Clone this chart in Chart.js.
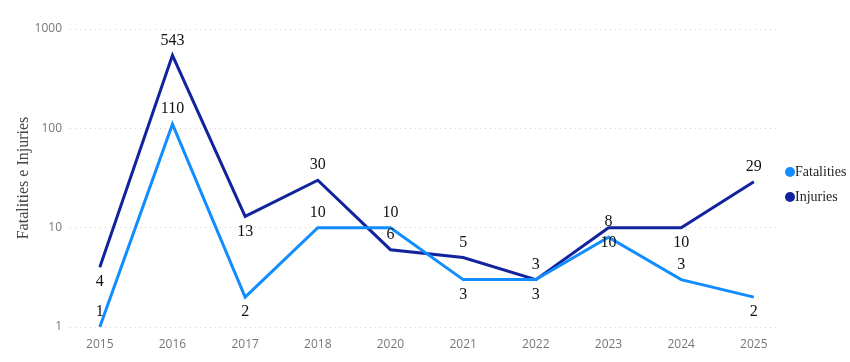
<!DOCTYPE html>
<html>
<head>
<meta charset="utf-8">
<script src="https://cdn.jsdelivr.net/npm/chart.js@4.4.1/dist/chart.umd.min.js"></script>
<style>
  html, body { margin: 0; padding: 0; background: #fff; }
  #wrap { width: 850px; height: 362px; position: relative; }
</style>
</head>
<body>
<div id="wrap"><canvas id="grafico"></canvas></div>
<script>
// anos (2019 nao aparece no original)
const anos = ["2015", "2016", "2017", "2018", "2020", "2021", "2022", "2023", "2024", "2025"];
const fatalities = [1, 110, 2, 10, 10, 3, 3, 8, 3, 2];
const injuries = [4, 543, 13, 30, 6, 5, 3, 10, 10, 29];
const ticksY = [1, 10, 100, 1000];

// onde fica cada rotulo: acima (-1) ou abaixo (1) do ponto
const posFatalities = [-1, -1, 1, -1, -1, 1, 1, -1, -1, 1];
const posInjuries = [1, -1, 1, -1, -1, -1, -1, 1, 1, -1];

const corFatalities = "#118DFF";
const corInjuries = "#12239E";

function pontos(valores) {
    return valores.map((v, i) => ({ x: i, y: v }));
}

// rotulos de dados
const rotulos = {
    id: "rotulos",
    afterDatasetsDraw(chart) {
        const ctx = chart.ctx;
        const posicoes = [posFatalities, posInjuries];
        ctx.save();
        ctx.font = "16px 'Liberation Serif'";
        ctx.fillStyle = "#111";
        ctx.textAlign = "center";
        ctx.textBaseline = "middle";
        chart.data.datasets.forEach((ds, d) => {
            const meta = chart.getDatasetMeta(d);
            meta.data.forEach((p, i) => {
                ctx.fillText(String(ds.data[i].y), p.x, p.y + posicoes[d][i] * 15);
            });
        });
        ctx.restore();
    }
};

// legenda a direita
const legenda = {
    id: "legenda",
    afterDraw(chart) {
        const ctx = chart.ctx;
        ctx.save();
        ctx.font = "14px 'Liberation Serif'";
        ctx.textBaseline = "middle";
        chart.data.datasets.forEach((ds, d) => {
            const y = 172 + d * 25;
            ctx.fillStyle = ds.borderColor;
            ctx.beginPath();
            ctx.arc(790, y, 5, 0, Math.PI * 2);
            ctx.fill();
            ctx.fillStyle = "#252423";
            ctx.fillText(ds.label, 795, y);
        });
        ctx.restore();
    }
};

new Chart(document.getElementById("grafico"), {
    type: "line",
    data: {
        datasets: [
            {
                label: "Fatalities",
                data: pontos(fatalities),
                borderColor: corFatalities,
                backgroundColor: corFatalities,
                borderWidth: 3,
                pointRadius: 0,
                tension: 0
            },
            {
                label: "Injuries",
                data: pontos(injuries),
                borderColor: corInjuries,
                backgroundColor: corInjuries,
                borderWidth: 3,
                pointRadius: 0,
                tension: 0
            }
        ]
    },
    options: {
        responsive: true,
        maintainAspectRatio: false,
        animation: false,
        layout: { padding: { top: 29, right: 70, left: 14, bottom: 0 } },
        plugins: {
            legend: { display: false },
            tooltip: { enabled: false }
        },
        scales: {
            x: {
                type: "linear",
                min: -0.41,
                max: 9.36,
                afterBuildTicks: (scale) => {
                    scale.ticks = anos.map((a, i) => ({ value: i }));
                },
                afterFit: (scale) => { scale.height = 35; },
                ticks: {
                    callback: (v) => anos[v],
                    color: "#777",
                    font: { family: "'Open Sans'", size: 12 },
                    padding: 2,
                    maxRotation: 0,
                    autoSkip: false
                },
                grid: { display: false },
                border: { display: false }
            },
            y: {
                type: "logarithmic",
                min: 1,
                max: 1000,
                afterBuildTicks: (scale) => {
                    scale.ticks = ticksY.map((v) => ({ value: v }));
                },
                afterFit: (scale) => { scale.width = 56; },
                ticks: {
                    callback: (v) => String(v),
                    color: "#777",
                    font: { family: "'Open Sans'", size: 12 },
                    padding: 8
                },
                title: {
                    display: true,
                    text: "Fatalities e Injuries",
                    color: "#444",
                    font: { family: "'Liberation Serif'", size: 16 },
                    padding: { top: 0, bottom: 4 }
                },
                grid: {
                    color: "#d0d0d0",
                    lineWidth: 1,
                    drawTicks: false
                },
                border: { display: false, dash: [1, 4] }
            }
        }
    },
    plugins: [rotulos, legenda]
});
</script>
</body>
</html>
